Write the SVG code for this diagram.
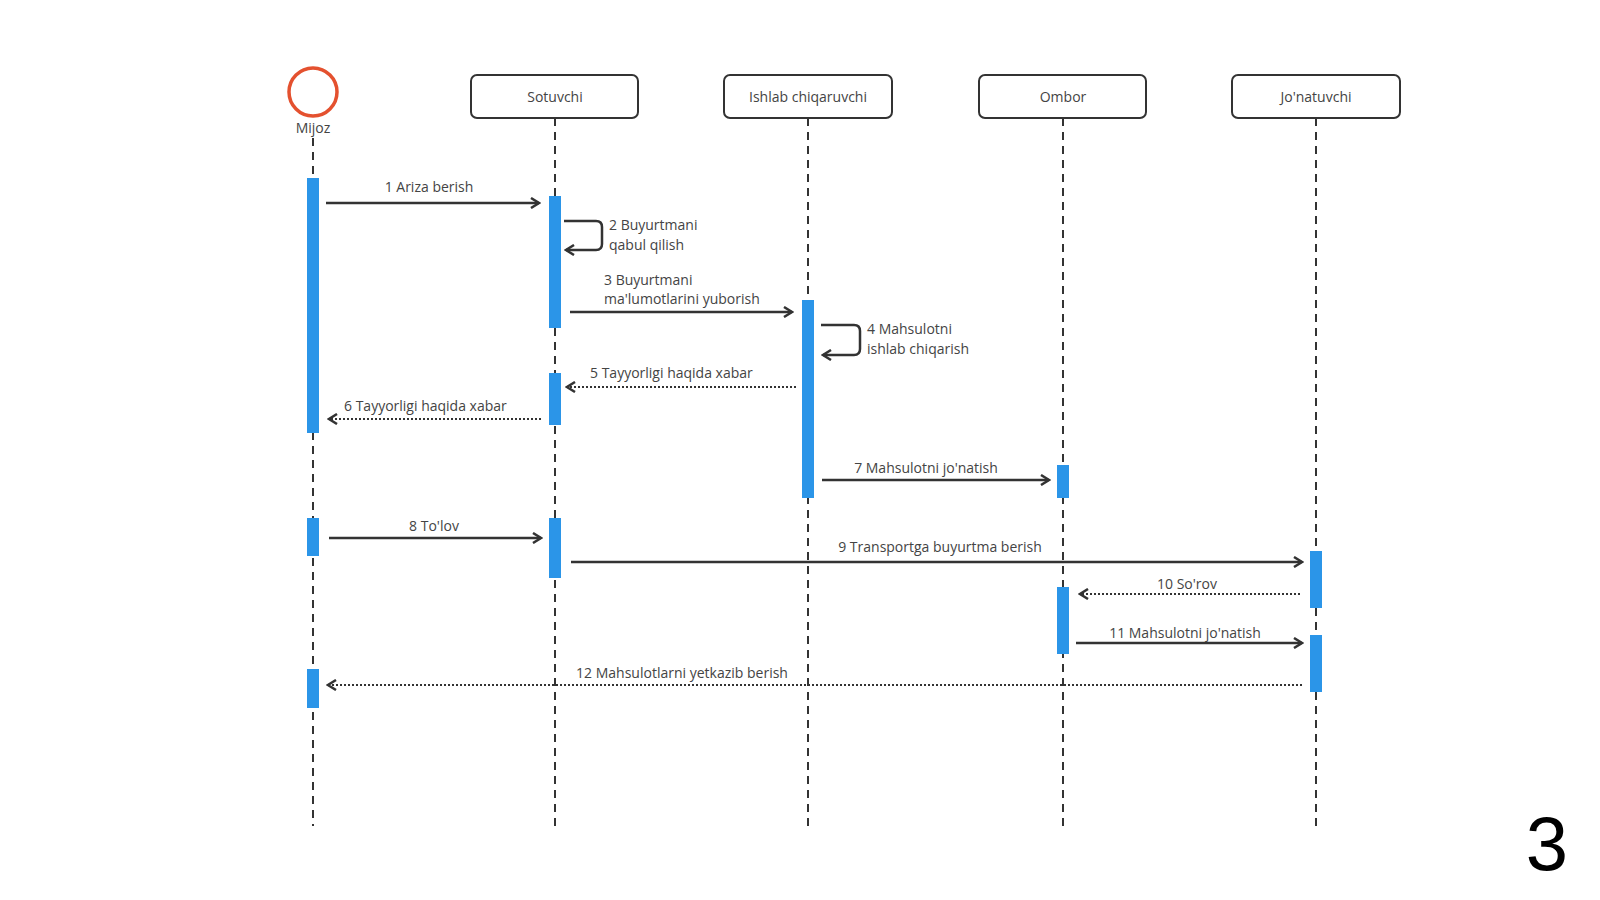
<svg xmlns="http://www.w3.org/2000/svg" width="1600" height="900" viewBox="0 0 1600 900">
<defs>
<style>
text{font-family:"Open Sans","Liberation Sans",sans-serif;font-size:14px;fill:#444}
.box{fill:#fff;stroke:#333;stroke-width:2}
.life{stroke:#333;stroke-width:2;stroke-dasharray:8 6;fill:none}
.act{fill:#2b95e8}
.msg{stroke:#333;stroke-width:2.5;fill:none;marker-end:url(#ah)}
.ret{stroke:#333;stroke-width:2;stroke-dasharray:2 2;fill:none;marker-end:url(#ah)}
</style>
<marker id="ah" viewBox="0 0 12 12" refX="10" refY="6" markerWidth="12" markerHeight="12" markerUnits="userSpaceOnUse" orient="auto">
<path d="M2,1 L10,6 L2,11" fill="none" stroke="#333" stroke-width="2.5" stroke-dasharray="none"/>
</marker>
</defs>
<rect width="1600" height="900" fill="#fff"/>
<g id="lifelines">
<line class="life" x1="313" y1="138" x2="313" y2="826"/>
<line class="life" x1="555" y1="118" x2="555" y2="826"/>
<line class="life" x1="808" y1="118" x2="808" y2="826"/>
<line class="life" x1="1063" y1="118" x2="1063" y2="826"/>
<line class="life" x1="1316" y1="118" x2="1316" y2="826"/>
</g>
<g id="mijoz"><circle cx="313" cy="92" r="24" fill="#fff" stroke="#e4512f" stroke-width="3.5"/><text x="313" y="133" text-anchor="middle">Mijoz</text></g>
<g id="sotuvchi"><rect class="box" x="471" y="75" width="167" height="43" rx="6"/><text x="555" y="102" text-anchor="middle">Sotuvchi</text></g>
<g id="ishlab"><rect class="box" x="724" y="75" width="168" height="43" rx="6"/><text x="808" y="102" text-anchor="middle">Ishlab chiqaruvchi</text></g>
<g id="ombor"><rect class="box" x="979" y="75" width="167" height="43" rx="6"/><text x="1063" y="102" text-anchor="middle">Ombor</text></g>
<g id="jonatuvchi"><rect class="box" x="1232" y="75" width="168" height="43" rx="6"/><text x="1316" y="102" text-anchor="middle">Jo'natuvchi</text></g>
<g id="activations">
<rect class="act" x="307" y="178" width="12" height="255"/>
<rect class="act" x="307" y="518" width="12" height="38"/>
<rect class="act" x="307" y="669" width="12" height="39"/>
<rect class="act" x="549" y="196" width="12" height="132"/>
<rect class="act" x="549" y="373" width="12" height="52"/>
<rect class="act" x="549" y="518" width="12" height="60"/>
<rect class="act" x="802" y="300" width="12" height="198"/>
<rect class="act" x="1057" y="465" width="12" height="33"/>
<rect class="act" x="1057" y="587" width="12" height="67"/>
<rect class="act" x="1310" y="551" width="12" height="57"/>
<rect class="act" x="1310" y="635" width="12" height="57"/>
</g>
<g id="connectors">
<line class="msg" x1="326" y1="203" x2="539" y2="203"/>
<path class="msg" d="M564,221 H596 Q602,221 602,227 V244 Q602,250 596,250 H566"/>
<line class="msg" x1="570" y1="312" x2="792" y2="312"/>
<path class="msg" d="M821,325 H854 Q860,325 860,331 V349 Q860,355 854,355 H823"/>
<line class="ret" x1="796" y1="387" x2="567" y2="387"/>
<line class="ret" x1="541" y1="419" x2="329" y2="419"/>
<line class="msg" x1="822" y1="480" x2="1049" y2="480"/>
<line class="msg" x1="329" y1="538" x2="541" y2="538"/>
<line class="msg" x1="571" y1="562" x2="1302" y2="562"/>
<line class="ret" x1="1300" y1="594" x2="1080" y2="594"/>
<line class="msg" x1="1076" y1="643" x2="1302" y2="643"/>
<line class="ret" x1="1302" y1="685" x2="328" y2="685"/>
</g>
<g id="labels">
<text x="429" y="192" text-anchor="middle">1 Ariza berish</text>
<text x="609" y="230">2 Buyurtmani</text><text x="609" y="250">qabul qilish</text>
<text x="604" y="285">3 Buyurtmani</text><text x="604" y="304">ma'lumotlarini yuborish</text>
<text x="867" y="334">4 Mahsulotni</text><text x="867" y="354">ishlab chiqarish</text>
<text x="590" y="378">5 Tayyorligi haqida xabar</text>
<text x="344" y="411">6 Tayyorligi haqida xabar</text>
<text x="926" y="473" text-anchor="middle">7 Mahsulotni jo'natish</text>
<text x="434" y="531" text-anchor="middle">8 To'lov</text>
<text x="940" y="552" text-anchor="middle">9 Transportga buyurtma berish</text>
<text x="1187" y="589" text-anchor="middle">10 So'rov</text>
<text x="1185" y="638" text-anchor="middle">11 Mahsulotni jo'natish</text>
<text x="682" y="678" text-anchor="middle">12 Mahsulotlarni yetkazib berish</text>
</g>
<text x="1547" y="870" text-anchor="middle" style="font-size:76px;fill:#000;font-family:'Liberation Sans',sans-serif">3</text>
</svg>
